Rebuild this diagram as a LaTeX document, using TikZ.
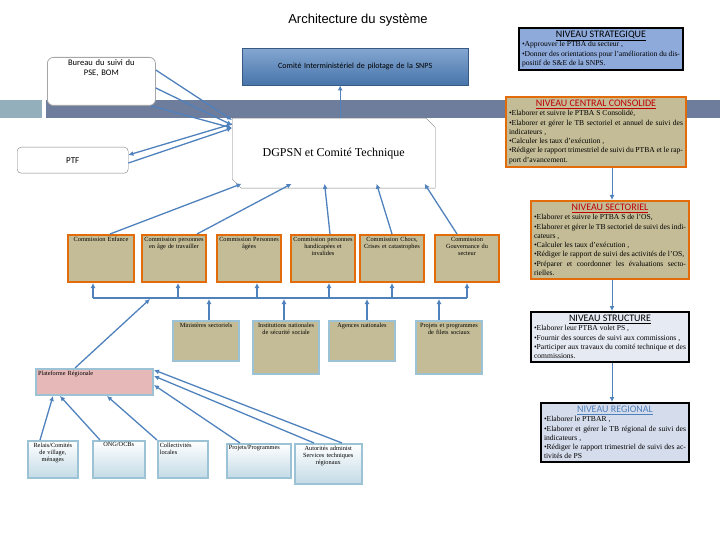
\documentclass[tikz,border=0pt]{standalone}
\usepackage{fontspec}
\setmainfont{Liberation Serif}
\setsansfont{Carlito}
\newfontfamily\arialf{Liberation Sans}
\usetikzlibrary{arrows.meta}
\usetikzlibrary{shapes.misc}
\definecolor{fleche}{HTML}{4F81BD}
\definecolor{beige}{HTML}{C4BC96}
\definecolor{orangeb}{HTML}{E36C0A}
\definecolor{bleuc}{HTML}{9CC3D5}
\definecolor{rosep}{HTML}{E6B9B8}
\definecolor{bande}{HTML}{6F7D9C}
\definecolor{strat}{HTML}{8EAADB}
\definecolor{regio}{HTML}{D5DCEB}
\definecolor{rouget}{HTML}{C00000}
\newcommand\haut[2]{\parbox[t][#1][t]{\linewidth}{\centering #2}}
\newcommand\titreniv[2]{{\centering\sffamily\color{#1}\fontsize{10}{11.5}\selectfont\underline{#2}\par}}
\tikzset{
  fl/.style={draw=fleche, line width=1.3pt, -{Latex[length=5pt,width=5pt]}},
  boite/.style={anchor=north west, align=center, inner sep=2pt, font=\fontsize{6.3}{7.3}\selectfont},
  comm/.style={boite, draw=orangeb, fill=beige, line width=2pt, text width=62pt},
  acteur/.style={boite, draw=bleuc, fill=beige, line width=2pt, text width=62pt},
  bas/.style={boite, draw=bleuc, top color=white, bottom color=bleuc!60, line width=1.5pt},
  niveau/.style={anchor=north west, align=justify, inner sep=3pt, font=\fontsize{7.6}{9.3}\selectfont},
}
\begin{document}
\begin{tikzpicture}[x=1pt,y=-1pt]
\useasboundingbox (0,0) rectangle (720,540);
% bande
\fill[bleuc!70!gray] (0,100) rectangle (42,118);
\fill[bande] (46,100) rectangle (720,118);
\node[font=\arialf\fontsize{13}{15}\selectfont] (titre) at (358,20) {Architecture du système};

% niveau central
\node[boite, draw=gray!70, rounded corners=6pt, fill=white, text width=84pt, inner xsep=12pt, font=\sffamily\fontsize{8.5}{10.5}\selectfont, line width=0.8pt] (bureau) at (47,57) {\haut{44pt}{Bureau du suivi du PSE, BOM}};
\node[boite, draw=fleche!70!black, top color=fleche!70, bottom color=fleche!90!black, text width=222pt, minimum height=37pt, font=\sffamily\fontsize{8}{9.5}\selectfont] (comite) at (242,48) {Comité Interministériel de pilotage de la SNPS};
\node[anchor=north west, draw=gray, fill=white, chamfered rectangle, chamfered rectangle corners={north east, south west}, chamfered rectangle xsep=6pt, minimum width=203pt, minimum height=70pt, font=\fontsize{12}{14}\selectfont] (dgpsn) at (232,118) {DGPSN et Comité Technique};
\node[boite, draw=gray, rounded corners=4pt, fill=white, text width=107pt, minimum height=26pt, font=\sffamily\fontsize{9}{10}\selectfont] (ptf) at (17,147) {PTF};

% commissions
\node[comm] (enf) at (67,234) {\haut{43pt}{Commission Enfance}};
\node[comm, text width=60pt] (trav) at (141,234) {\haut{43pt}{Commission personnes en âge de travailler}};
\node[comm, text width=60pt] (ages) at (216,234) {\haut{43pt}{Commission Personnes âgées}};
\node[comm, text width=60pt] (hand) at (290,234) {\haut{43pt}{Commission personnes handicapées et invalides}};
\node[comm, text width=60pt] (choc) at (359,234) {\haut{43pt}{Commission Chocs, Crises et catastrophes}};
\node[comm, text width=60pt] (gouv) at (434,234) {\haut{43pt}{Commission Gouvernance du secteur}};

% acteurs
\node[acteur] (mins) at (172,320) {\haut{36pt}{Ministères sectoriels}};
\node[acteur] (inst) at (252,320) {\haut{49pt}{Institutions nationales de sécurité sociale}};
\node[acteur] (agen) at (328,320) {\haut{36pt}{Agences nationales}};
\node[acteur] (proj) at (415,320) {\haut{49pt}{Projets et programmes de filets sociaux}};
\node[boite, draw=bleuc, fill=rosep, line width=2pt, text width=113pt] (plat) at (35,368) {\haut{22pt}{\raggedright Plateforme Régionale}};

% regional
\node[bas, text width=46pt] (relais) at (27,440) {\haut{33pt}{Relais/Comités de village, ménages}};
\node[bas, text width=48pt] (ong) at (92,440) {\haut{33pt}{ONG/OCBs}};
\node[bas, text width=46pt] (coll) at (157,440) {\haut{33pt}{\raggedright Collectivités locales}};
\node[bas, text width=60pt] (prog) at (226,443) {\haut{30pt}{\raggedright Projets/Programmes}};
\node[bas, text width=63pt] (auto) at (294,443) {\haut{36pt}{Autorités administ Services techniques régionaux}};

% niveaux
\node[niveau, draw=black, line width=2pt, fill=strat, text width=158pt] (nstrat) at (518,27) {\titreniv{black}{NIVEAU STRATEGIQUE}
•Approuver le PTBA du secteur ,\par •Donner des orientations pour l'amélioration du dispositif de S\&E de la SNPS.};
\node[niveau, draw=orangeb, line width=2pt, fill=beige, text width=174pt] (ncent) at (505,96) {\titreniv{rouget}{NIVEAU CENTRAL CONSOLIDE}
•Elaborer et suivre le PTBA S Consolidé,\par •Elaborer et gérer le TB sectoriel et annuel de suivi des indicateurs ,\par •Calculer les taux d'exécution ,\par •Rédiger le rapport trimestriel de suivi du PTBA et le rapport d'avancement.};
\node[niveau, draw=orangeb, line width=2pt, fill=beige, text width=152pt] (nsect) at (530,200) {\titreniv{rouget}{NIVEAU SECTORIEL}
•Elaborer et suivre le PTBA S de l'OS,\par •Elaborer et gérer le TB sectoriel de suivi des indicateurs ,\par •Calculer les taux d'exécution ,\par •Rédiger le rapport de suivi des activités de l'OS,\par •Préparer et coordonner les évaluations sectorielles.};
\node[niveau, draw=black, line width=2pt, fill=regio!60, text width=152pt] (nstruc) at (530,311) {\titreniv{black}{NIVEAU STRUCTURE}
•Elaborer leur PTBA volet PS ,\par •Fournir des sources de suivi aux commissions ,\par •Participer aux travaux du comité technique et des commissions.};
\node[niveau, draw=black, line width=2pt, fill=regio, text width=142pt] (nreg) at (540,402) {\titreniv{fleche}{NIVEAU REGIONAL}
•Elaborer le PTBAR ,\par •Elaborer et gérer le TB régional de suivi des indicateurs ,\par •Rédiger le rapport trimestriel de suivi des activités de PS};

% liaisons niveaux
\draw[fl, line width=1pt] (ncent.south -| 612,0) -- (nsect.north -| 612,0);
\draw[fl, line width=1pt] (nsect.south -| 612,0) -- (nstruc.north -| 612,0);
\draw[fl, line width=1pt] (nstruc.south -| 612,0) -- (nreg.north -| 612,0);

% liaisons haut
\draw[fl] (dgpsn.north west -| comite.south) ++(-15,0) coordinate (dh) -- (dh |- comite.south);
\draw[fl] ([yshift=-13pt]bureau.north east) -- ([yshift=-2pt]dgpsn.north west);
\draw[fl] ([yshift=-31pt]bureau.north east) -- ([yshift=-7pt]dgpsn.north west);
\draw[fl] ([xshift=-5pt]bureau.south east) -- ([yshift=-10pt]dgpsn.north west);
\draw[fl] ([yshift=-6pt]dgpsn.north west) -- ([yshift=-8pt]ptf.north east);
\draw[fl] ([yshift=-16pt]ptf.north east) -- ([yshift=-10pt]dgpsn.north west);

% commissions vers DGPSN
\draw[fl] ([xshift=43pt]enf.north west) -- ([xshift=5pt]dgpsn.south west);
\draw[fl] ([xshift=56pt]trav.north west) -- ([xshift=55pt]dgpsn.south west);
\draw[fl] ([xshift=40pt]hand.north west) -- ([xshift=88pt]dgpsn.south west);
\draw[fl] ([xshift=33pt]choc.north west) -- ([xshift=140pt]dgpsn.south west);
\draw[fl] ([xshift=23pt]gouv.north west) -- ([xshift=188pt]dgpsn.south west);

% bus
\coordinate (busg) at (93,298);
\coordinate (busd) at (467,298);
\draw[draw=fleche, line width=1.3pt] (busg) -- (busd);
\foreach \c/\x in {enf/93, trav/178, ages/257, hand/329, choc/392, gouv/467}
  \draw[fl] (\x,298) -- (\c.south -| \x,0);
\foreach \a/\x in {mins/209, inst/284, agen/367, proj/439}
  \draw[fl] (\a.north -| \x,0) -- (\x,299);
\draw[fl] ([xshift=40pt]plat.north west) -- (150,299);

% regional vers plateforme
\draw[fl] ([xshift=13pt]relais.north west) -- ([xshift=18pt]plat.south west);
\draw[fl] ([xshift=8pt]ong.north west) -- ([xshift=25pt]plat.south west);
\draw[fl] (coll.north west) -- ([xshift=72pt]plat.south west);
\draw[fl] ([xshift=14pt]prog.north west) -- ([yshift=-17pt]plat.north east);
\draw[fl] ([xshift=20pt]auto.north west) -- ([yshift=-8pt]plat.north east);
\draw[fl] ([xshift=48pt]auto.north west) -- ([yshift=-2pt]plat.north east);
\end{tikzpicture}
\end{document}
